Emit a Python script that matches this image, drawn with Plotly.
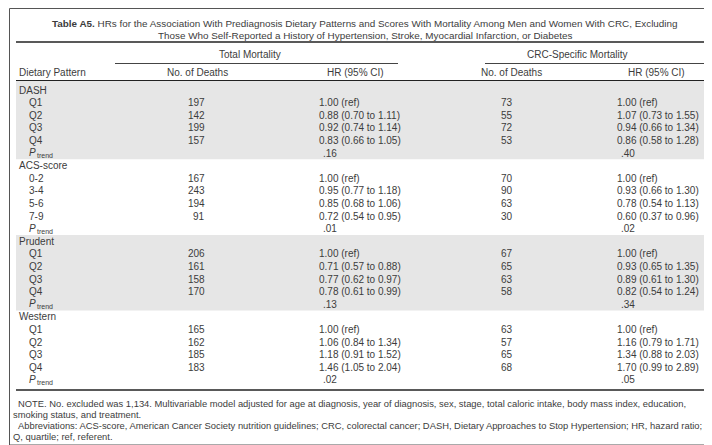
import plotly.graph_objects as go

# ---------------- data ----------------
title_line1 = "<b>Table A5.</b> HRs for the Association With Prediagnosis Dietary Patterns and Scores With Mortality Among Men and Women With CRC, Excluding"
title_line2 = "Those Who Self-Reported a History of Hypertension, Stroke, Myocardial Infarction, or Diabetes"

groups = ["DASH", "ACS-score", "Prudent", "Western"]
levels = [
    ["Q1", "Q2", "Q3", "Q4"],
    ["0-2", "3-4", "5-6", "7-9"],
    ["Q1", "Q2", "Q3", "Q4"],
    ["Q1", "Q2", "Q3", "Q4"],
]
total_deaths = [
    [197, 142, 199, 157],
    [167, 243, 194, 91],
    [206, 161, 158, 170],
    [165, 162, 185, 183],
]
total_hr = [
    ["1.00 (ref)", "0.88 (0.70 to 1.11)", "0.92 (0.74 to 1.14)", "0.83 (0.66 to 1.05)"],
    ["1.00 (ref)", "0.95 (0.77 to 1.18)", "0.85 (0.68 to 1.06)", "0.72 (0.54 to 0.95)"],
    ["1.00 (ref)", "0.71 (0.57 to 0.88)", "0.77 (0.62 to 0.97)", "0.78 (0.61 to 0.99)"],
    ["1.00 (ref)", "1.06 (0.84 to 1.34)", "1.18 (0.91 to 1.52)", "1.46 (1.05 to 2.04)"],
]
total_ptrend = [".16", ".01", ".13", ".02"]
crc_deaths = [
    [73, 55, 72, 53],
    [70, 90, 63, 30],
    [67, 65, 63, 58],
    [63, 57, 65, 68],
]
crc_hr = [
    ["1.00 (ref)", "1.07 (0.73 to 1.55)", "0.94 (0.66 to 1.34)", "0.86 (0.58 to 1.28)"],
    ["1.00 (ref)", "0.93 (0.66 to 1.30)", "0.78 (0.54 to 1.13)", "0.60 (0.37 to 0.96)"],
    ["1.00 (ref)", "0.93 (0.65 to 1.35)", "0.89 (0.61 to 1.30)", "0.82 (0.54 to 1.24)"],
    ["1.00 (ref)", "1.16 (0.79 to 1.71)", "1.34 (0.88 to 2.03)", "1.70 (0.99 to 2.89)"],
]
crc_ptrend = [".40", ".02", ".34", ".05"]

notes = [
    "NOTE. No. excluded was 1,134. Multivariable model adjusted for age at diagnosis, year of diagnosis, sex, stage, total caloric intake, body mass index, education,",
    "smoking status, and treatment.",
    "Abbreviations: ACS-score, American Cancer Society nutrition guidelines; CRC, colorectal cancer; DASH, Dietary Approaches to Stop Hypertension; HR, hazard ratio;",
    "Q, quartile; ref, referent.",
]

# ---------------- layout constants ----------------
W, H = 712, 445
FONT = "Liberation Sans, Arial, Helvetica, sans-serif"
TXT = "#3c3c3c"
FS = 10
BAND = "#e6e6e6"

y0 = 82.0
pitch = 12.6

fig = go.Figure()
fig.add_trace(go.Scatter(x=[0, W], y=[0, H], mode="markers",
                         marker=dict(opacity=0), hoverinfo="skip", showlegend=False))

shapes = []
ann = []


def text(x, y, s, anchor="left", size=FS, color=TXT):
    ann.append(dict(x=x, y=y, xref="x", yref="y", text=s, showarrow=False,
                    xanchor=anchor, yanchor="middle",
                    font=dict(family=FONT, size=size, color=color)))


def hline(y, x0, x1, w=1.0, c="#222"):
    shapes.append(dict(type="line", xref="x", yref="y", x0=x0, x1=x1, y0=y, y1=y,
                       line=dict(color=c, width=w)))


# bands (DASH and Prudent)
row = 0
for gi, g in enumerate(groups):
    first = y0 + pitch * row
    last = y0 + pitch * (row + 5)
    if gi % 2 == 0:
        top = 73 if gi == 0 else first - pitch / 2
        shapes.append(dict(type="rect", xref="x", yref="y", x0=8, x1=705,
                           y0=top, y1=last + pitch / 2, fillcolor=BAND,
                           line=dict(width=0), layer="below"))
    row += 6

# outer border
shapes.append(dict(type="rect", xref="x", yref="y", x0=1.5, x1=709, y0=0.5, y1=437,
                   line=dict(color="#555", width=1), fillcolor="rgba(0,0,0,0)"))

# title
text(W / 2 + 1, 15, title_line1, anchor="center", size=9.9)
text(W / 2 + 1, 27, title_line2, anchor="center", size=9.9)
hline(34, 8, 705, w=1.6)

# spanners
text(242, 46, "Total Mortality", anchor="center")
hline(55.5, 107, 390, w=1.2, c="#444")
text(569, 46, "CRC-Specific Mortality", anchor="center")
hline(55.5, 477, 705, w=1.2, c="#444")

# column headers
text(189, 64, "No. of Deaths", anchor="center")
text(9, 64, "Dietary Pattern")
text(347, 64, "HR (95% CI)", anchor="center")
text(503, 64, "No. of Deaths", anchor="center")
text(648, 64, "HR (95% CI)", anchor="center")
hline(72.5, 8, 705, w=1.0)

# body
row = 0
for gi, g in enumerate(groups):
    text(9, y0 + pitch * row, g)
    row += 1
    for li, lv in enumerate(levels[gi]):
        y = y0 + pitch * row
        text(19, y, lv)
        text(199, y, str(total_deaths[gi][li]), anchor="right")
        text(309, y, total_hr[gi][li])
        text(507, y, str(crc_deaths[gi][li]), anchor="right")
        text(607, y, crc_hr[gi][li])
        row += 1
    y = y0 + pitch * row
    text(19, y - 0.5, "<i>P</i>")
    text(26.5, y + 2.5, "trend", size=7)
    text(313, y, total_ptrend[gi])
    text(611, y, crc_ptrend[gi])
    row += 1

hline(382, 8, 705, w=1.6)

# notes
note_y = [395, 406.5, 417.5, 428]
note_x = [8, 3, 8, 3]
for s, yy, xx in zip(notes, note_y, note_x):
    text(xx, yy, s, size=9.4)

fig.update_layout(
    width=W, height=H,
    margin=dict(l=0, r=0, t=0, b=0),
    paper_bgcolor="white", plot_bgcolor="white",
    xaxis=dict(range=[0, W], visible=False, fixedrange=True),
    yaxis=dict(range=[H, 0], visible=False, fixedrange=True),
    shapes=shapes, annotations=ann, showlegend=False,
)

fig.write_html("out.html")
